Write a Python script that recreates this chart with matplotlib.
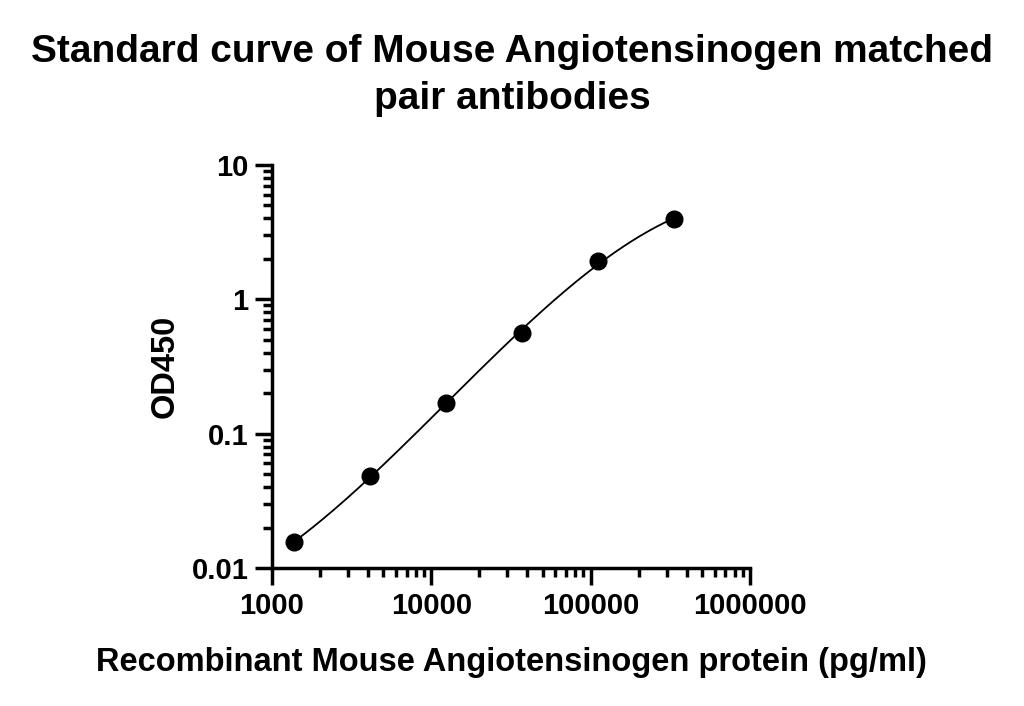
import matplotlib

matplotlib.use("Agg")
import matplotlib.pyplot as plt
import numpy as np
from matplotlib.ticker import LogLocator, FixedLocator, FixedFormatter, NullFormatter

plt.rcParams["font.family"] = ["Liberation Sans", "DejaVu Sans"]
plt.rcParams["font.weight"] = "bold"

# standard curve data (3-fold dilutions)
conc = [1372, 4115, 12346, 37037, 111111, 333333]
od450 = [0.0155, 0.048, 0.170, 0.56, 1.92, 3.95]

x_ticks = [1000, 10000, 100000, 1000000]
x_labels = ["1000", "10000", "100000", "1000000"]
y_ticks = [0.01, 0.1, 1, 10]
y_labels = ["0.01", "0.1", "1", "10"]

fig = plt.figure(figsize=(10.24, 7.06), dpi=100, facecolor="white")
ax = fig.add_axes([0.2656, 0.1955, 0.4668, 0.5708])

# smooth fit line in log-log space
lx = np.log10(conc)
ly = np.log10(od450)
coef = np.polyfit(lx, ly, 3)
xs = np.linspace(lx[0], lx[-1], 200)
ax.plot(10 ** xs, 10 ** np.polyval(coef, xs), color="black", lw=1.3, zorder=2)
ax.plot(conc, od450, "o", color="black", ms=12, zorder=3, clip_on=False)

ax.set_xscale("log")
ax.set_yscale("log")
ax.set_xlim(1000, 1000000)
ax.set_ylim(0.01, 10)

for s in ["top", "right"]:
    ax.spines[s].set_visible(False)
for s in ["left", "bottom"]:
    ax.spines[s].set_linewidth(2.5)

ax.xaxis.set_major_locator(FixedLocator(x_ticks))
ax.xaxis.set_major_formatter(FixedFormatter(x_labels))
ax.yaxis.set_major_locator(FixedLocator(y_ticks))
ax.yaxis.set_major_formatter(FixedFormatter(y_labels))
ax.xaxis.set_minor_locator(LogLocator(base=10, subs=np.arange(2, 10), numticks=20))
ax.yaxis.set_minor_locator(LogLocator(base=10, subs=np.arange(2, 10), numticks=20))
ax.xaxis.set_minor_formatter(NullFormatter())
ax.yaxis.set_minor_formatter(NullFormatter())
ax.tick_params(which="major", length=12, width=2.5, labelsize=21, pad=5)
ax.tick_params(which="minor", length=6.5, width=2.5)
for lab in ax.get_xticklabels() + ax.get_yticklabels():
    lab.set_fontweight("bold")

ax.set_xlabel("Recombinant Mouse Angiotensinogen protein (pg/ml)", fontsize=23.5,
              fontweight="bold", labelpad=20)
ax.set_ylabel("OD450", fontsize=23.5, fontweight="bold", labelpad=8)

fig.suptitle("Standard curve of Mouse Angiotensinogen matched\npair antibodies",
             fontsize=28, fontweight="bold", y=0.952, linespacing=1.38)

fig.savefig("out.png", dpi=100, facecolor="white")
